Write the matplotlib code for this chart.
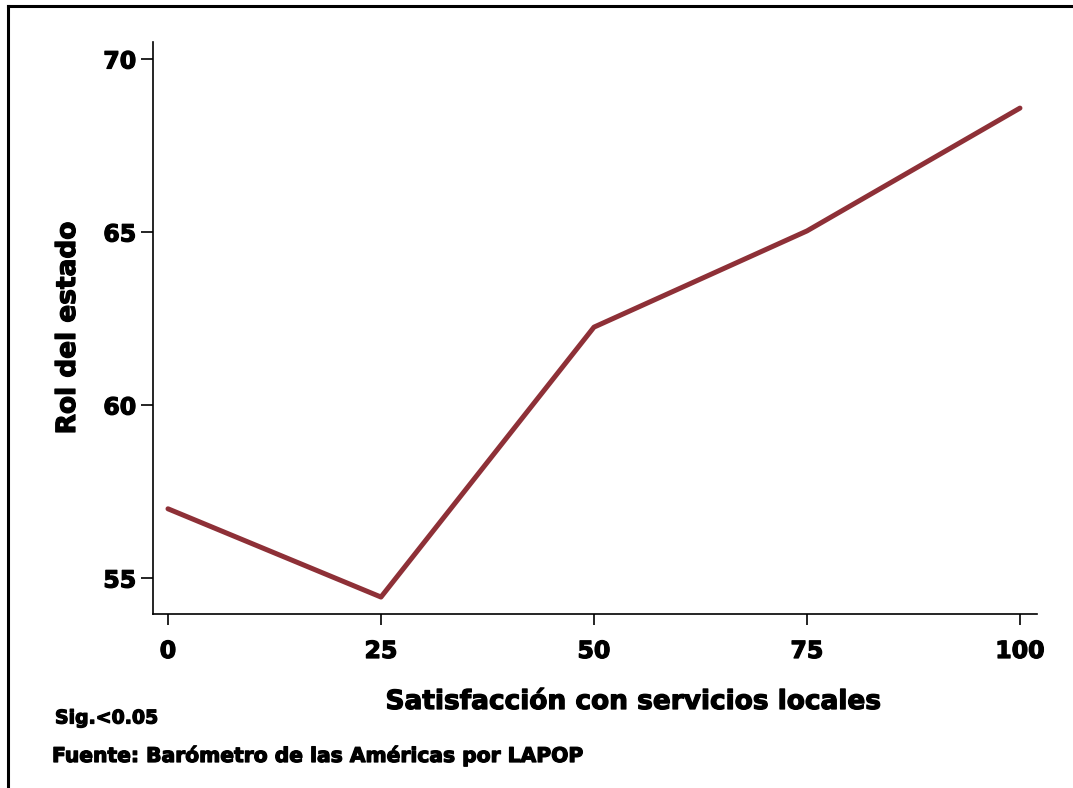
import matplotlib
matplotlib.use("Agg")
import matplotlib.pyplot as plt
import matplotlib.patheffects as pe
from matplotlib.lines import Line2D

# data
satisfaccion = [0, 25, 50, 75, 100]
rol_estado = [57.0, 54.45, 62.25, 65.03, 68.58]
x_ticks = [0, 25, 50, 75, 100]
y_ticks = [55, 60, 65, 70]

plt.rcParams['font.family'] = ['DejaVu Sans']
W = 'bold'
# a thin stroke makes DejaVu Bold look closer to the heavy original face
heavy = [pe.withStroke(linewidth=0.9, foreground='black')]

fig = plt.figure(figsize=(10.73, 7.88), dpi=100)
ax = fig.add_axes([153 / 1073, 1 - 614 / 788, (1037 - 153) / 1073, (614 - 42) / 788])

ax.plot(satisfaccion, rol_estado, color='#8e3037', linewidth=3.6, solid_capstyle='round')

ax.set_xlim(-1.76, 102.0)
ax.set_ylim(53.96, 70.49)
ax.set_xticks(x_ticks)
ax.set_yticks(y_ticks)
ax.spines['top'].set_visible(False)
ax.spines['right'].set_visible(False)
for s in ('left', 'bottom'):
    ax.spines[s].set_linewidth(1.2)
ax.tick_params(axis='x', direction='out', length=8, width=1.2, labelsize=17, pad=10)
ax.tick_params(axis='y', direction='out', length=9, width=1.2, labelsize=17, pad=3)
for lab in ax.get_xticklabels() + ax.get_yticklabels():
    lab.set_fontweight(W)
    lab.set_path_effects(heavy)

ax.set_xlabel('Satisfacción con servicios locales', fontsize=19, fontweight=W, va='center',
              path_effects=heavy)
ax.xaxis.set_label_coords((633.5 - 153) / 884, (614 - 702) / 572)
ax.set_ylabel('Rol del estado', fontsize=19, fontweight=W, va='center', path_effects=heavy)
ax.yaxis.set_label_coords((68 - 153) / 884, 0.5)

fig.text(55 / 1073, 1 - 718 / 788, 'Sig.<0.05', fontsize=13.6, fontweight=W, va='center',
         path_effects=heavy)
fig.text(52 / 1073, 1 - 756 / 788, 'Fuente: Barómetro de las Américas por LAPOP',
         fontsize=14.6, fontweight=W, va='center', path_effects=heavy)

# outer frame (top and left visible)
fig.add_artist(Line2D([8 / 1073, 8 / 1073], [0, 1 - 6 / 788], color='black', lw=2.2,
                      transform=fig.transFigure))
fig.add_artist(Line2D([8 / 1073, 1], [1 - 6 / 788, 1 - 6 / 788], color='black', lw=2.2,
                      transform=fig.transFigure))

fig.savefig('out.png', dpi=100)
